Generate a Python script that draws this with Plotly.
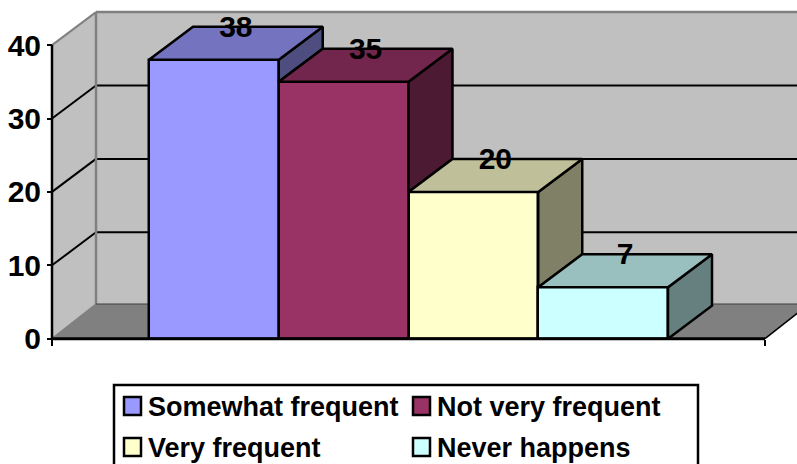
import plotly.graph_objects as go

# ---- data ----
series = ["Somewhat frequent", "Not very frequent", "Very frequent", "Never happens"]
values = [38, 35, 20, 7]
front_colors = ["#9999FF", "#993366", "#FFFFCC", "#CCFFFF"]
top_colors = ["#7373BF", "#73264D", "#BFBF99", "#99BFBF"]
side_colors = ["#4D4D80", "#4D1A33", "#808066", "#668080"]
y_ticks = [0, 10, 20, 30, 40]

# ---- canvas / scale set-up (pixels) ----
W, H = 797, 464
Y0_PX, PX_PER_Y = 338.7, 7.34
X0_PX, PX_PER_X = 149 + 64.875, 129.75   # px of x=0 (centre of first bar), px per bar
DX = 44 / PX_PER_X          # depth offset in x units
DY = 33 / PX_PER_Y          # depth offset in y units
FLOOR_DY = 34.7 / PX_PER_Y  # floor back edge sits slightly further back
LABEL_SHIFT = 2.5 / PX_PER_Y
x_range = [-X0_PX / PX_PER_X, (W - X0_PX) / PX_PER_X]
y_range = [-(H - Y0_PX) / PX_PER_Y, Y0_PX / PX_PER_Y]
XL = (52 - X0_PX) / PX_PER_X  # left end of floor (front)
XR = (765 - X0_PX) / PX_PER_X  # right end of floor (front)
YMAX = 40


def path(points):
    return "M " + " L ".join(f"{x:.4f},{y:.4f}" for x, y in points) + " Z"


shapes = []
wall_gray = "#C0C0C0"
floor_gray = "#808080"
# back wall, side wall, floor
shapes.append(dict(type="path", path=path([(XL + DX, FLOOR_DY), (XR + DX, FLOOR_DY), (XR + DX, YMAX + DY), (XL + DX, YMAX + DY)]),
                   fillcolor=wall_gray, line=dict(width=0), layer="below"))
shapes.append(dict(type="path", path=path([(XL, 0), (XL + DX, FLOOR_DY), (XL + DX, YMAX + DY), (XL, YMAX)]),
                   fillcolor=wall_gray, line=dict(width=0), layer="below"))
shapes.append(dict(type="path", path=path([(XL, 0), (XR, 0), (XR + DX, FLOOR_DY), (XL + DX, FLOOR_DY)]),
                   fillcolor=floor_gray, line=dict(width=0), layer="below"))
# gridlines
for t in y_ticks[1:-1]:
    shapes.append(dict(type="line", x0=XL, y0=t, x1=XL + DX, y1=t + DY, line=dict(color="black", width=2), layer="below"))
    shapes.append(dict(type="line", x0=XL + DX, y0=t + DY, x1=XR + DX, y1=t + DY, line=dict(color="black", width=2), layer="below"))
# wall edges
for (a, b, c, d, col, w) in [
    (XL, YMAX, XL + DX, YMAX + DY, "#808080", 2),
    (XL + DX, YMAX + DY, XR + DX, YMAX + DY, "#808080", 2.5),
    (XL + DX, FLOOR_DY, XL + DX, YMAX + DY, "#808080", 2.5),
    (XL, 0, XL + DX, FLOOR_DY, "#808080", 1.5),
    (XL + DX, FLOOR_DY, XR + DX, FLOOR_DY, "#404040", 1),
    (XR, 0, XR + DX, FLOOR_DY, "black", 1.5),
]:
    shapes.append(dict(type="line", x0=a, y0=b, x1=c, y1=d, line=dict(color=col, width=w), layer="below"))
# axis lines
shapes.append(dict(type="line", x0=XL, y0=0, x1=XL, y1=YMAX, line=dict(color="black", width=2.5), layer="below"))

fig = go.Figure()

# front faces
for i, (name, v) in enumerate(zip(series, values)):
    fig.add_trace(go.Bar(x=[i], y=[v], width=1, name=name, showlegend=False,
                         marker=dict(color=front_colors[i], line=dict(color="black", width=2.5))))

# top and side faces
for i, v in enumerate(values):
    x0, x1 = i - 0.5, i + 0.5
    nxt = values[i + 1] if i + 1 < len(values) else 0
    top_x = [x0, x1, x1 + DX, x0 + DX, x0]
    top_y = [v, v, v + DY, v + DY, v]
    side_x = [x1, x1 + DX, x1 + DX, x1, x1]
    side_y = [v, v + DY, nxt + DY, nxt, v]
    fig.add_trace(go.Scatter(x=side_x, y=side_y, mode="lines", fill="toself", fillcolor=side_colors[i],
                             line=dict(color="black", width=2.5), showlegend=False, hoverinfo="skip"))
    fig.add_trace(go.Scatter(x=top_x, y=top_y, mode="lines", fill="toself", fillcolor=top_colors[i],
                             line=dict(color="black", width=2.5), showlegend=False, hoverinfo="skip"))

# baseline above faces
fig.add_trace(go.Scatter(x=[XL, XR], y=[0, 0], mode="lines", line=dict(color="black", width=3),
                         showlegend=False, hoverinfo="skip"))

# data labels
fig.add_trace(go.Scatter(x=[i + DX / 2 for i in range(len(values))],
                         y=[v + DY - LABEL_SHIFT for v in values],
                         mode="text", text=[str(v) for v in values], textposition="middle center",
                         textfont=dict(family="Liberation Sans", size=30, color="black", weight="bold"),
                         showlegend=False, hoverinfo="skip"))

# legend (paper coordinates)
def px(x):
    return x / W


def py(y):
    return 1 - y / H


shapes.append(dict(type="rect", xref="paper", yref="paper", x0=px(114), x1=px(698), y0=py(385), y1=py(470),
                   fillcolor="white", line=dict(color="black", width=2.5), layer="above"))
legend_pos = [(124, 406), (413, 406), (124, 447), (413, 447)]
annotations = []
for (lx, ly), name, col in zip(legend_pos, series, front_colors):
    shapes.append(dict(type="rect", xref="paper", yref="paper", x0=px(lx), x1=px(lx + 17), y0=py(ly - 9), y1=py(ly + 9),
                       fillcolor=col, line=dict(color="black", width=2.5), layer="above"))
    annotations.append(dict(xref="paper", yref="paper", x=px(lx + 22), y=py(ly + 0.5), xanchor="left", yanchor="middle",
                            text=f"<b>{name}</b>", showarrow=False,
                            font=dict(family="Liberation Sans", size=27, color="black")))

fig.update_layout(
    width=W, height=H, autosize=False,
    margin=dict(l=0, r=0, t=0, b=0, pad=0),
    paper_bgcolor="white", plot_bgcolor="white",
    barmode="overlay", bargap=0, showlegend=False,
    shapes=shapes, annotations=annotations,
    font=dict(family="Liberation Sans", color="black"),
    xaxis=dict(range=x_range, autorange=False, showgrid=False, zeroline=False, showline=False,
               anchor="free", position=(H - Y0_PX) / H,
               tickmode="array", tickvals=[XL, XR], ticktext=["", ""], ticks="outside",
               ticklen=6, tickwidth=2, tickcolor="black", fixedrange=True),
    yaxis=dict(range=y_range, autorange=False, showgrid=False, zeroline=False, showline=False,
               anchor="free", position=52 / W,
               tickmode="array", tickvals=y_ticks, ticks="outside", ticklen=5, tickwidth=2, tickcolor="black",
               tickfont=dict(family="Liberation Sans", size=30, color="black", weight="bold"), fixedrange=True),
)

fig.write_html("out.html", config=dict(displayModeBar=False),
               post_script="document.body.style.margin='0';document.body.style.overflow='hidden';")
